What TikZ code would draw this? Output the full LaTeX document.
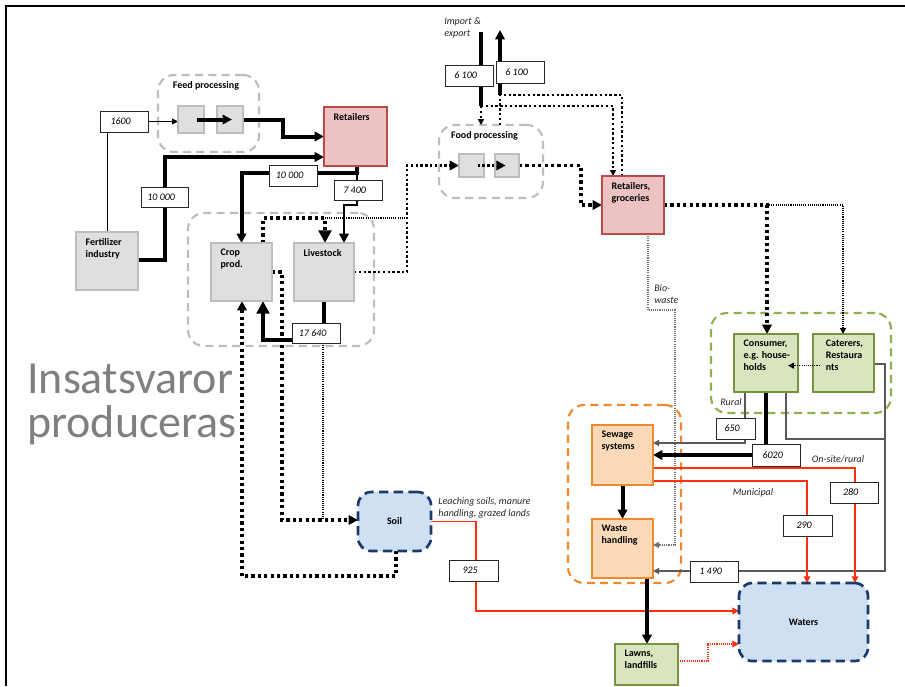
\documentclass[tikz,border=0pt]{standalone}
\usepackage{fontspec}
\setmainfont{Carlito}
\usetikzlibrary{arrows.meta}
\definecolor{bgray}{HTML}{DFDFDF}
\definecolor{bgrayl}{HTML}{BDBDBD}
\definecolor{pinkf}{HTML}{ECC3C2}
\definecolor{pinkl}{HTML}{B84A47}
\definecolor{greenf}{HTML}{D9E5BE}
\definecolor{greenl}{HTML}{77933C}
\definecolor{greeng}{HTML}{8FB04F}
\definecolor{orangef}{HTML}{FCD9B8}
\definecolor{orangel}{HTML}{F0892C}
\definecolor{bluef}{HTML}{D0E0F3}
\definecolor{bluel}{HTML}{1A3A6E}
\definecolor{redl}{HTML}{FF3010}
\definecolor{glin}{HTML}{595959}
\definecolor{bigtext}{HTML}{7F7F7F}
\newcommand\fsz{\fontsize{7.5}{9}\selectfont}
\newcommand\nb[1]{#1\kern5pt}
\pgfdeclarelayer{grplayer}
\pgfdeclarelayer{linelayer}
\pgfdeclarelayer{toplayer}
\pgfsetlayers{grplayer,linelayer,main,toplayer}
\begin{document}
\begin{tikzpicture}[x=0.75pt,y=-0.75pt,
  sz/.style 2 args={minimum width=#1*0.75pt, minimum height=#2*0.75pt},
  gbox/.style={draw=bgrayl, fill=bgray, line width=2pt, inner sep=0pt, outer sep=0pt},
  pbox/.style={gbox, draw=pinkl, fill=pinkf},
  grbox/.style={gbox, draw=greenl, fill=greenf},
  obox/.style={gbox, draw=orangel, fill=orangef},
  bbox/.style={gbox, draw=bluel, fill=bluef, dash pattern=on 7pt off 4pt, rounded corners=10pt, font=\bfseries\fsz},
  inlbl/.style={label={[anchor=north west, xshift=7pt, yshift=-4.5pt, font=\bfseries\fsz, align=left, inner sep=0pt]north west:{#1}}},
  inlblw/.style={label={[anchor=north west, xshift=9.5pt, yshift=-4.5pt, font=\bfseries\fsz, align=left, inner sep=0pt]north west:{#1}}},
  grp/.style={draw=#1, fill=none, dash pattern=on 6pt off 4pt, line width=1.6pt, rounded corners=12pt, inner sep=0pt, outer sep=0pt},
  num/.style={draw=black!85, fill=white, line width=0.6pt, font=\fsz\itshape, inner sep=0pt, outer sep=0pt},
  itl/.style={font=\fsz\itshape, inner sep=0pt, align=left, text=black!85},
  gtl/.style={font=\bfseries\fsz, inner sep=0pt},
  thk/.style={line width=3pt},
  med/.style={line width=1.8pt},
  thn/.style={line width=0.7pt},
  gln/.style={line width=1.1pt, draw=glin},
  redln/.style={line width=1.1pt, draw=redl},
  sqdotL/.style={line width=2.4pt, dash pattern=on 2.4pt off 2.4pt},
  sqdotM/.style={line width=1.8pt, dash pattern=on 1.8pt off 1.8pt},
  fdot/.style={line width=0.8pt, dash pattern=on 0.8pt off 0.8pt},
  fdotg/.style={line width=0.8pt, dash pattern=on 0.8pt off 0.8pt, draw=black!55},
  rdot/.style={line width=0.8pt, dash pattern=on 0.8pt off 0.8pt, draw=redl},
  ar/.style={-{Triangle[length=7pt,width=7pt]}},
  arS/.style={-{Triangle[length=4.5pt,width=4.5pt]}},
  arL/.style={-{Triangle[length=9.5pt,width=9.5pt]}},
  arR/.style={-{Triangle[length=5pt,width=5pt,fill=redl]}}
]
\useasboundingbox (0,0) rectangle (905,686);
\draw[line width=1.5pt] (6,686) -- (6,6) -- (905,6);

% groups
\begin{pgfonlayer}{grplayer}
\node[grp=bgrayl, sz={101}{77}] (gfeed) at (208.5,113.5) {};
\node[grp=bgrayl, sz={186}{133}] (gfarm) at (281,279.5) {};
\node[grp=bgrayl, sz={104}{73}] (gfood) at (491,161.5) {};
\node[grp=greeng, sz={180}{100}] (gcons) at (801,363) {};
\node[grp=orangel, sz={113}{178}] (gsew) at (624.5,494) {};
\end{pgfonlayer}
\node[gtl] (tfeed) at (206,86) {Feed processing};
\node[gtl] (tfood) at (484.5,136) {Food processing};

% big text
\node[anchor=base west, inner sep=0pt, text=bigtext, font=\fontsize{34.5}{34.5}\selectfont] (ins1) at (27,393) {Insatsvaror};
\node[anchor=base west, inner sep=0pt, text=bigtext, font=\fontsize{34.5}{34.5}\selectfont] (ins2) at (27,437) {produceras};

% boxes
\node[gbox, sz={62}{58}, inlbl={Fertilizer\\industry}] (fert) at (107,261) {};
\node[gbox, sz={26}{27}] (fp1) at (191,119.5) {};
\node[gbox, sz={26}{27}] (fp2) at (230,119.5) {};
\node[pbox, sz={63}{59}, inlbl={Retailers}] (ret) at (355.5,136.5) {};
\node[gbox, sz={61}{58}, inlbl={Crop\\prod.}] (crop) at (241.5,272) {};
\node[gbox, sz={60}{58}, inlbl={Livestock}] (live) at (324,272) {};
\node[gbox, sz={25}{23}] (fd1) at (471.5,165.5) {};
\node[gbox, sz={24}{23}] (fd2) at (507,165.5) {};
\node[pbox, sz={62}{58}, inlbl={Retailers,\\groceries}] (retg) at (633,205) {};
\node[grbox, sz={64}{58}, inlbl={Consumer,\\e.g. house-\\holds}] (cons) at (766,363) {};
\node[grbox, sz={61}{58}, inlblw={Caterers,\\Restaura\\nts}] (cat) at (843.5,363) {};
\node[obox, sz={61}{60}, inlbl={Sewage\\systems}] (sew) at (622.5,455) {};
\node[obox, sz={61}{59}, inlbl={Waste\\handling}] (waste) at (622.5,548.5) {};
\node[grbox, sz={63}{41}, inlbl={Lawns,\\landfills}] (lawns) at (646.5,664.5) {};
\node[bbox, sz={73}{59}] (soil) at (394.5,521.5) {Soil};
\node[bbox, sz={129}{78}] (waters) at (803.5,622) {Waters};

% number boxes
\node[num, sz={48}{21}] (n1600) at (124,121.5) {\nb{1600}};
\node[num, sz={47}{20}] (n10a) at (164.5,197) {\nb{10 000}};
\node[num, sz={48}{21}] (n10b) at (293,175.5) {\nb{10 000}};
\node[num, sz={48}{20}] (n7400) at (358,190) {\nb{7 400}};
\node[num, sz={48}{20}] (n17640) at (316,333) {\nb{17 640}};
\node[num, sz={49}{21}] (n925) at (473.5,570.5) {\nb{925}};
\node[num, sz={48}{21}] (n6100a) at (469,75.5) {\nb{6 100}};
\node[num, sz={48}{22}] (n6100b) at (520,72) {\nb{6 100}};
\node[num, sz={39}{21}] (n650) at (735.5,428.5) {\nb{650}};
\node[num, sz={48}{22}] (n6020) at (776,455) {\nb{6020}};
\node[num, sz={48}{21}] (n280) at (854,492.5) {\nb{280}};
\node[num, sz={49}{21}] (n290) at (807.5,525.5) {\nb{290}};
\node[num, sz={48}{21}] (n1490) at (714,571.5) {\nb{1 490}};

\coordinate (imp) at (481,32);
\coordinate (exp) at (500,30);

% connectors
\begin{pgfonlayer}{linelayer}
\draw[thn] (fert.north) -- (fert.north |- n1600.south);
\draw[thn, arS] (n1600.east) -- (fp1.west |- n1600.east);
\draw[thk, ar] (fp2.east) -- (283,119.5) |- (ret.west);
\draw[thk, ar] (fert.east |- 0,260) -- (165,260) |- (ret.west |- 0,157);
\draw[thk, ar] ([xshift=1pt]ret.south) -- ++(0,7) -| (crop.north);
\draw[med, ar] ([xshift=1pt]ret.south) -- ++(0,39) -| (live.north -| 344,0);
\draw[sqdotL, arL] (crop.north -| 263,0) -- (263,218) -| (live.north -| 325,0);
\draw[fdot] (325,218) -- (407,218);
\draw[sqdotM, ar] (live.east) -- (407,272) |- (fd1.west);
\draw[sqdotL, ar] (fd2.east) -- (581,165.5) |- (retg.west);
\draw[thk] (imp) -- (481,106);
\draw[sqdotM, arS] (481,106) -- (gfood.north -| 481,0);
\draw[sqdotM, arS] (481,106) -- (613,106) -- (retg.north -| 613,0);
\draw[sqdotM] (retg.north -| 622,0) -- (622,95) -- (500,95);
\draw[sqdotM] (gfood.north -| 500,0) -- (500,95);
\draw[thk, ar] (500,95) -- (exp);
\draw[sqdotL, ar] (retg.east) -- (767,205) -- (cons.north -| 767,0);
\draw[fdot, arS] (767,205) -- (843,205) -- (cat.north -| 843,0);
\draw[fdotg, arS] (retg.south -| 648,0) -- (648,310) -- (675,310) -- (675,545) -- (waste.east |- 0,545);
\draw[gln, arS] (cons.south -| 745,0) -- (745,443) -- (sew.east |- 0,443);
\draw[thk] (cons.south) -- (cons.south |- n6020.north);
\draw[thk, ar] (n6020.west) -- (sew.east |- n6020.west);
\draw[gln] (cons.south -| 786,0) -- (786,439) -- (885,439);
\draw[gln, arS] (cat.east |- 0,364) -- (885,364) -- (885,571) -- (waste.east |- 0,571);
\draw[thk, ar] (sew.south) -- (waste.north);
\draw[redln, arR] (sew.east |- 0,468) -- (855,468) -- (waters.north -| 855,0);
\draw[redln, arR] (sew.east |- 0,481) -- (807,481) -- (waters.north -| 807,0);
\draw[redln, arR] (soil.east) -- (476,521.5) -- (476,611) -- (waters.west |- 0,611);
\draw[thk, ar] (waste.south -| 647,0) -- (lawns.north -| 647,0);
\draw[rdot, arR] (lawns.east |- 0,661) -- (708,661) -- (708,644) -- (waters.west |- 0,644);
\draw[thk] (live.south) -- (live.south |- n17640.north);
\draw[thk, arL] (n17640.west |- 0,340) -- (263,340) -- (crop.south -| 263,0);
\draw[sqdotL, ar] (crop.east) -- (282,272) -- (282,520) -- (soil.west |- 0,520);
\draw[fdot] (n17640.south -| 323,0) -- (323,520);
\draw[sqdotL, ar] (soil.south -| 396,0) -- (396,576) -- (242,576) -- (crop.south -| 242,0);
\end{pgfonlayer}
\begin{pgfonlayer}{toplayer}
\draw[thk, ar] ([xshift=4.5pt]fp1.center) -- ([xshift=1.5pt]fp2.center);
\draw[sqdotM, ar] ([xshift=4.5pt]fd1.center) -- ([xshift=-1pt]fd2.center);
\draw[fdot, arS] ([xshift=5pt,yshift=-2pt]cat.west) -- ([xshift=-7.5pt,yshift=-2pt]cons.east);
\end{pgfonlayer}

% italic labels
\node[itl, anchor=north west] (limp) at (444,17) {Import \&\\export};
\node[itl, anchor=north west] (lbio) at (654,284) {Bio-\\waste};
\node[itl] (lrural) at (731,402) {Rural};
\node[itl] (lons) at (838,459) {On-site/rural};
\node[itl] (lmun) at (753,493) {Municipal};
\node[itl] (llea) at (484.5,508) {Leaching soils, manure\\handling, grazed lands};
\end{tikzpicture}
\end{document}
